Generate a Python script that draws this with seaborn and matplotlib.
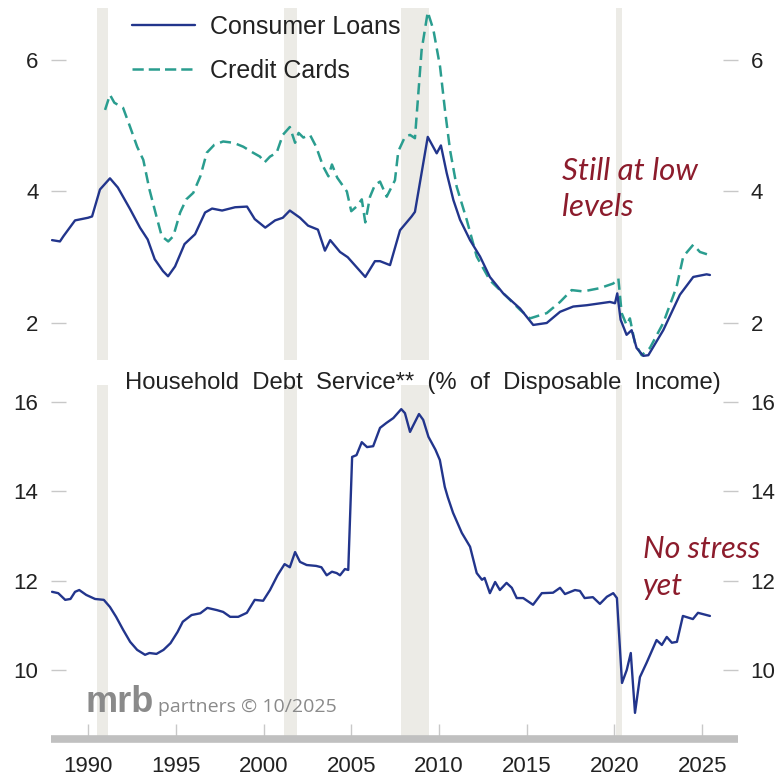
import numpy as np
import pandas as pd
import seaborn as sns
import matplotlib.pyplot as plt

# ---------------------------------------------------------
# Data
# ---------------------------------------------------------
cl_years = [1987.95, 1988.4, 1988.6, 1989.26, 1990.0, 1990.23, 1990.68, 1991.25, 1991.7,
            1992.4, 1992.96, 1993.4, 1993.8, 1994.27, 1994.56, 1994.96, 1995.5, 1996.1,
            1996.67, 1997.07, 1997.64, 1998.38, 1999.06, 1999.5, 2000.1, 2000.66, 2001.1,
            2001.5, 2002.08, 2002.54, 2003.1, 2003.5, 2003.8, 2004.36, 2004.8, 2005.4,
            2005.8, 2006.35, 2006.64, 2007.21, 2007.78, 2008.44, 2008.63, 2009.36, 2009.87,
            2010.11, 2010.44, 2010.82, 2011.2, 2011.77, 2012.34, 2012.9, 2013.66, 2014.62,
            2015.37, 2016.14, 2016.9, 2017.65, 2018.42, 2019.74, 2020.03, 2020.16, 2020.35,
            2020.69, 2020.98, 2021.26, 2021.64, 2021.93, 2022.78, 2023.73, 2024.49, 2025.25,
            2025.44]
cl_values = [3.26, 3.24, 3.32, 3.56, 3.60, 3.62, 4.03, 4.20, 4.06,
             3.73, 3.45, 3.27, 2.97, 2.79, 2.71, 2.86, 3.20, 3.35,
             3.68, 3.74, 3.71, 3.76, 3.77, 3.58, 3.45, 3.56, 3.60,
             3.71, 3.60, 3.48, 3.42, 3.10, 3.26, 3.08, 3.00, 2.82,
             2.70, 2.94, 2.94, 2.88, 3.41, 3.62, 3.69, 4.83, 4.58,
             4.70, 4.28, 3.87, 3.57, 3.26, 3.01, 2.70, 2.45, 2.22,
             1.97, 2.00, 2.17, 2.25, 2.27, 2.32, 2.30, 2.45, 2.05,
             1.82, 1.89, 1.62, 1.50, 1.51, 1.89, 2.43, 2.70, 2.74,
             2.73]

cc_years = [1990.97, 1991.25, 1991.5, 1992.0, 1992.4, 1992.8, 1993.15, 1993.5, 1993.9,
            1994.2, 1994.57, 1994.86, 1995.25, 1995.6, 1996.0, 1996.4, 1996.77, 1997.2,
            1997.7, 1998.3, 1998.85, 1999.4, 1999.8, 2000.05, 2000.37, 2000.75, 2001.1,
            2001.5, 2001.8, 2002.0, 2002.27, 2002.65, 2003.0, 2003.4, 2003.7, 2003.9,
            2004.2, 2004.75, 2005.0, 2005.3, 2005.6, 2005.8, 2006.07, 2006.35, 2006.64,
            2007.02, 2007.49, 2007.68, 2008.06, 2008.35, 2008.63, 2009.01, 2009.36, 2009.68,
            2010.06, 2010.34, 2010.63, 2011.01, 2011.58, 2012.15, 2012.9, 2013.86, 2014.62,
            2015.19, 2016.14, 2016.9, 2017.56, 2018.22, 2019.17, 2019.93, 2020.22, 2020.41,
            2020.69, 2020.88, 2021.17, 2021.55, 2022.02, 2022.78, 2023.54, 2023.92, 2024.49,
            2024.87, 2025.44]
cc_values = [5.24, 5.47, 5.35, 5.27, 4.98, 4.68, 4.48, 4.03, 3.62,
             3.32, 3.24, 3.32, 3.68, 3.88, 3.98, 4.23, 4.59, 4.71,
             4.76, 4.74, 4.68, 4.59, 4.53, 4.44, 4.53, 4.59, 4.86,
             4.98, 4.74, 4.89, 4.82, 4.86, 4.68, 4.38, 4.23, 4.41,
             4.21, 4.00, 3.70, 3.77, 3.88, 3.53, 3.92, 4.10, 4.15,
             3.92, 4.17, 4.61, 4.83, 4.86, 4.81, 6.15, 6.73, 6.46,
             5.90, 5.24, 4.63, 4.07, 3.57, 3.01, 2.65, 2.40, 2.20,
             2.07, 2.15, 2.32, 2.50, 2.48, 2.53, 2.60, 2.68, 2.15,
             1.97, 2.07, 1.69, 1.51, 1.62, 2.00, 2.55, 3.01, 3.19,
             3.08, 3.03]

ds_years = [1987.95, 1988.3, 1988.7, 1989.0, 1989.26, 1989.5, 1989.9, 1990.4, 1990.9,
            1991.25, 1991.6, 1992.0, 1992.4, 1992.8, 1993.25, 1993.5, 1993.9, 1994.3,
            1994.7, 1995.1, 1995.4, 1995.9, 1996.4, 1996.8, 1997.35, 1997.7, 1998.1,
            1998.56, 1999.05, 1999.5, 1999.98, 2000.37, 2000.8, 2001.2, 2001.5, 2001.8,
            2002.08, 2002.46, 2003.0, 2003.3, 2003.6, 2003.9, 2004.17, 2004.36, 2004.64,
            2004.83, 2005.05, 2005.3, 2005.6, 2005.9, 2006.25, 2006.64, 2007.0, 2007.4,
            2007.85, 2008.06, 2008.35, 2008.5, 2008.86, 2009.1, 2009.4, 2009.8, 2010.05,
            2010.33, 2010.5, 2010.8, 2011.3, 2011.77, 2012.15, 2012.45, 2012.6, 2012.9,
            2013.2, 2013.47, 2013.85, 2014.15, 2014.43, 2014.8, 2015.36, 2015.86, 2016.5,
            2016.9, 2017.18, 2017.75, 2018.03, 2018.3, 2018.77, 2019.17, 2019.57, 2019.93,
            2020.14, 2020.43, 2020.7, 2020.93, 2021.17, 2021.45, 2021.83, 2022.4, 2022.7,
            2022.98, 2023.27, 2023.56, 2023.9, 2024.47, 2024.76, 2025.44]
ds_values = [11.75, 11.72, 11.57, 11.59, 11.75, 11.79, 11.68, 11.59, 11.57,
             11.41, 11.19, 10.90, 10.63, 10.45, 10.34, 10.38, 10.36, 10.45,
             10.60, 10.85, 11.08, 11.23, 11.27, 11.39, 11.34, 11.30, 11.19,
             11.19, 11.28, 11.57, 11.55, 11.79, 12.12, 12.37, 12.30, 12.64,
             12.42, 12.35, 12.33, 12.30, 12.12, 12.20, 12.17, 12.12, 12.26,
             12.24, 14.77, 14.81, 15.10, 14.99, 15.01, 15.42, 15.53, 15.64,
             15.84, 15.75, 15.33, 15.45, 15.73, 15.60, 15.22, 14.93, 14.70,
             14.10, 13.87, 13.52, 13.07, 12.76, 12.17, 12.02, 12.06, 11.72,
             11.97, 11.79, 11.95, 11.84, 11.61, 11.61, 11.46, 11.72, 11.73,
             11.84, 11.70, 11.79, 11.77, 11.61, 11.63, 11.48, 11.64, 11.72,
             11.61, 9.71, 10.00, 10.38, 9.04, 9.84, 10.16, 10.67, 10.56,
             10.74, 10.61, 10.63, 11.21, 11.14, 11.28, 11.21]

recessions = [(1990.5, 1991.15), (2001.15, 2001.9), (2007.85, 2009.45), (2020.1, 2020.45)]
year_ticks = [1990, 1995, 2000, 2005, 2010, 2015, 2020, 2025]

cl_color = "#22358c"
cc_color = "#2a9d8f"
note_color = "#8c1c2c"
shade = "#ecebe6"
note_font = ["Lato", "DejaVu Sans"]

# ---------------------------------------------------------
# Plot
# ---------------------------------------------------------
sns.set_theme(style="white")
plt.rcParams["font.family"] = ["Liberation Sans", "DejaVu Sans"]

fig = plt.figure(figsize=(7.83, 7.79), dpi=100)
W, H = 783, 779
x0, x1 = 1987.89, 2027.04

ax1 = fig.add_axes([51 / W, 1 - 360 / H, 687 / W, 352 / H])
ax2 = fig.add_axes([51 / W, 1 - 739 / H, 687 / W, 354 / H])

for ax in (ax1, ax2):
    for a, b in recessions:
        ax.axvspan(a, b, color=shade, lw=0, zorder=0)
    ax.set_xlim(x0, x1)
    for s in ax.spines.values():
        s.set_visible(False)
    ax.tick_params(axis="y", left=True, right=True, labelleft=True, labelright=True,
                   direction="in", length=11, width=1, color="#c8c8c8",
                   labelsize=16, labelcolor="#222222", pad=9)

# top panel
sns.lineplot(x=cl_years, y=cl_values, ax=ax1, color=cl_color, lw=1.7,
             label="Consumer Loans", zorder=3)
sns.lineplot(x=cc_years, y=cc_values, ax=ax1, color=cc_color, lw=1.8,
             label="Credit Cards", zorder=2)
ax1.lines[1].set_dashes((4.5, 2.4))
ax1.set_ylim(1.437, 6.79)
ax1.set_yticks([2, 4, 6])
ax1.set_xticks([])
ax1.set_xlabel("")
ax1.set_ylabel("")
leg = ax1.legend(loc="upper left", bbox_to_anchor=(132 / W, 1 - 15 / H),
                 bbox_transform=fig.transFigure, frameon=False, fontsize=18,
                 handlelength=2.5, handletextpad=0.6, labelspacing=0.78,
                 borderpad=0, borderaxespad=0)
for t in leg.get_texts():
    t.set_color("#222222")
leg.get_lines()[1].set_dashes((4.5, 2.0))

ax1.text(2017.0, 4.31, "Still at low", color=note_color, fontsize=22.5,
         style="italic", family=note_font, va="center", ha="left")
ax1.text(2017.0, 3.77, "levels", color=note_color, fontsize=22.5,
         style="italic", family=note_font, va="center", ha="left")

# bottom panel
sns.lineplot(x=ds_years, y=ds_values, ax=ax2, color=cl_color, lw=1.7, zorder=3)
ax2.set_ylim(8.455, 16.38)
ax2.set_yticks([10, 12, 14, 16])
ax2.set_xticks(year_ticks)
ax2.set_xticklabels([str(y) for y in year_ticks])
ax2.spines["bottom"].set_visible(True)
ax2.spines["bottom"].set_color("#c0c0c0")
ax2.spines["bottom"].set_linewidth(5.5)
ax2.spines["bottom"].set_capstyle("butt")
ax2.tick_params(axis="x", bottom=True, direction="in", length=11, width=1,
                color="#c8c8c8", labelsize=16, labelcolor="#222222", pad=12)
ax2.set_xlabel("")
ax2.set_ylabel("")

ax2.text(2021.62, 12.70, "No stress", color=note_color, fontsize=22,
         style="italic", family=note_font, va="center", ha="left")
ax2.text(2021.62, 11.87, "yet", color=note_color, fontsize=22,
         style="italic", family=note_font, va="center", ha="left")

fig.text(423 / W, 1 - 383 / H, "Household  Debt  Service**  (%  of  Disposable  Income)",
         ha="center", va="center", fontsize=17.2, color="#222222")

fig.text(85 / W, 1 - 712 / H, "mrb", fontsize=26, fontweight="bold",
         color="#8a8a8a", va="baseline", ha="left")
fig.text(158 / W, 1 - 712 / H, "partners \u00a9 10/2025", fontsize=14,
         color="#8a8a8a", va="baseline", ha="left", family=["Open Sans", "DejaVu Sans"])

fig.savefig("out.png", dpi=100)
